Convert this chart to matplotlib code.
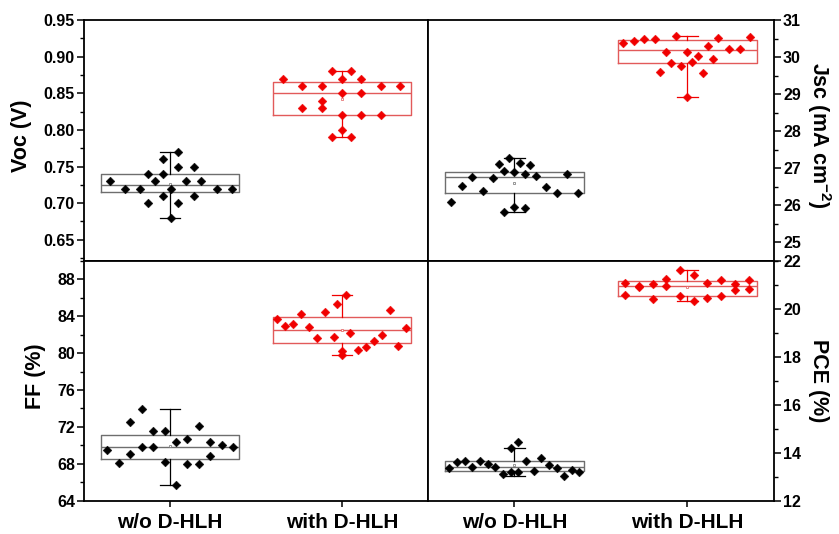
import numpy as np
import matplotlib
matplotlib.use("Agg")
import matplotlib.pyplot as plt
from matplotlib.ticker import MultipleLocator, FormatStrFormatter

plt.rcParams.update({
    "font.family": ["Liberation Sans", "DejaVu Sans"],
    "font.weight": "bold",
    "axes.labelweight": "bold",
    "mathtext.fontset": "custom",
    "mathtext.rm": "Liberation Sans:bold",
    "mathtext.default": "rm",
})

groups = ["w/o D-HLH", "with D-HLH"]

# ---- Voc (V) ----
voc_wo = [0.73, 0.72, 0.72, 0.70, 0.74, 0.73, 0.74, 0.76, 0.71, 0.72,
          0.68, 0.77, 0.75, 0.70, 0.73, 0.75, 0.71, 0.73, 0.72, 0.72]
voc_wo_dx = [-0.349, -0.262, -0.174, -0.130, -0.130, -0.085, -0.041, -0.041, -0.041, 0.004,
             0.004, 0.048, 0.048, 0.048, 0.093, 0.138, 0.138, 0.182, 0.271, 0.359]
voc_w = [0.87, 0.86, 0.83, 0.86, 0.84, 0.83, 0.88, 0.79, 0.87, 0.85,
         0.82, 0.80, 0.88, 0.79, 0.87, 0.85, 0.82, 0.86, 0.82, 0.86]
voc_w_dx = [-0.343, -0.231, -0.231, -0.116, -0.116, -0.116, -0.060, -0.060, 0.0, 0.0,
            0.0, 0.0, 0.054, 0.054, 0.110, 0.110, 0.110, 0.225, 0.225, 0.339]

# ---- Jsc (mA cm-2) ----
jsc_wo = [26.10, 26.51, 26.77, 26.38, 26.74, 27.12, 26.92, 25.81, 27.27, 26.89,
          25.97, 27.15, 26.86, 25.92, 27.09, 26.78, 26.50, 26.33, 26.84, 26.34]
jsc_wo_dx = [-0.369, -0.305, -0.244, -0.182, -0.122, -0.092, -0.061, -0.061, -0.030, 0.0,
             0.0, 0.030, 0.061, 0.061, 0.092, 0.122, 0.184, 0.246, 0.305, 0.365]
jsc_w = [30.38, 30.43, 30.50, 30.50, 29.59, 30.15, 29.83, 30.56, 29.76, 30.13,
         28.93, 29.86, 30.02, 29.57, 30.31, 29.95, 30.51, 30.23, 30.23, 30.55]
jsc_w_dx = [-0.370, -0.308, -0.249, -0.189, -0.156, -0.127, -0.094, -0.066, -0.035, -0.004,
            -0.004, 0.027, 0.058, 0.087, 0.118, 0.148, 0.179, 0.239, 0.301, 0.364]

# ---- FF (%) ----
ff_wo = [69.53, 68.09, 72.51, 69.06, 73.91, 69.81, 71.50, 69.78, 71.58, 68.19,
         70.35, 65.68, 70.71, 68.01, 72.12, 67.97, 70.35, 68.88, 69.99, 69.78]
ff_wo_dx = [-0.364, -0.297, -0.231, -0.231, -0.165, -0.165, -0.099, -0.099, -0.031, -0.031,
            0.035, 0.035, 0.101, 0.101, 0.167, 0.167, 0.234, 0.234, 0.300, 0.368]
ff_w = [83.70, 82.94, 83.12, 84.20, 82.87, 81.68, 84.45, 81.75, 85.28, 80.28,
        79.85, 86.32, 82.19, 80.39, 80.68, 81.36, 82.01, 84.71, 80.75, 82.76]
ff_w_dx = [-0.380, -0.331, -0.283, -0.238, -0.192, -0.143, -0.097, -0.048, -0.027, 0.0,
           0.0, 0.021, 0.045, 0.091, 0.138, 0.184, 0.233, 0.279, 0.328, 0.374]

# ---- PCE (%) ----
pce_wo = [13.35, 13.60, 13.66, 13.39, 13.66, 13.53, 13.38, 13.11, 14.20, 13.20,
          14.43, 13.20, 13.63, 13.25, 13.79, 13.47, 13.35, 13.02, 13.28, 13.20]
pce_wo_dx = [-0.377, -0.332, -0.288, -0.244, -0.199, -0.155, -0.111, -0.066, -0.022, -0.022,
             0.022, 0.022, 0.066, 0.111, 0.155, 0.199, 0.244, 0.288, 0.332, 0.375]
pce_w = [21.07, 20.57, 20.97, 20.93, 21.05, 20.41, 21.25, 20.94, 21.62, 20.54,
         21.43, 20.34, 21.08, 20.47, 21.22, 20.53, 21.05, 20.79, 21.22, 20.85]
pce_w_dx = [-0.360, -0.360, -0.281, -0.281, -0.202, -0.202, -0.123, -0.123, -0.044, -0.044,
            0.035, 0.035, 0.114, 0.114, 0.193, 0.193, 0.274, 0.274, 0.353, 0.353]

BLACK = "#000000"
RED = "#f00000"
BOX_K = "#6e6e6e"
BOX_R = "#e25a5a"


def box_stats(vals):
    v = np.sort(np.asarray(vals))
    q1, med, q3 = np.percentile(v, [25, 50, 75], method="midpoint")
    iqr = q3 - q1
    lo = v[v >= q1 - 1.5 * iqr].min()
    hi = v[v <= q3 + 1.5 * iqr].max()
    return dict(med=med, q1=q1, q3=q3, whislo=lo, whishi=hi, mean=v.mean(), fliers=[])


def panel(ax, sets, ylim, major, minor, fmt, right=False, bottom=False):
    for i, (vals, dx, col, bcol) in enumerate(sets):
        pos = i + 1
        ax.bxp([box_stats(vals)], positions=[pos], widths=0.8, capwidths=0.12,
               showfliers=False, showmeans=True,
               boxprops=dict(color=bcol, lw=1.0),
               medianprops=dict(color=bcol, lw=1.0),
               whiskerprops=dict(color=col, lw=0.9),
               capprops=dict(color=col, lw=0.9),
               meanprops=dict(marker="s", ms=1.8, mfc="white", mec=bcol, mew=0.5),
               zorder=2)
        ax.scatter(pos + np.asarray(dx), vals, marker="D", s=20, color=col,
                   edgecolors=col, linewidths=0.3, zorder=3)
    ax.set_xlim(0.5, 2.5)
    ax.set_ylim(*ylim)
    ax.yaxis.set_major_locator(MultipleLocator(major))
    ax.yaxis.set_minor_locator(MultipleLocator(minor))
    ax.yaxis.set_major_formatter(FormatStrFormatter(fmt))
    if right:
        ax.yaxis.tick_right()
        ax.yaxis.set_label_position("right")
    ax.tick_params(axis="y", which="major", direction="out", length=5, width=1.1,
                   labelsize=11.5, pad=1.5)
    ax.tick_params(axis="y", which="minor", direction="out", length=3, width=1.0)
    ax.set_xticks([1, 2])
    if bottom:
        ax.set_xticklabels(groups, fontsize=15, fontweight="bold")
        ax.tick_params(axis="x", direction="out", length=4, width=1.1, pad=5)
    else:
        ax.tick_params(axis="x", bottom=False, labelbottom=False)
    for sp in ax.spines.values():
        sp.set_linewidth(1.3)
    for lab in ax.get_yticklabels():
        lab.set_fontweight("bold")


fig = plt.figure(figsize=(8.39, 5.34), dpi=100)
L, M, R = 0.1001, 0.5101, 0.9225
B, Y, T = 0.0627, 0.5112, 0.9625

ax_voc = fig.add_axes([L, Y, M - L, T - Y])
ax_jsc = fig.add_axes([M, Y, R - M, T - Y])
ax_ff = fig.add_axes([L, B, M - L, Y - B])
ax_pce = fig.add_axes([M, B, R - M, Y - B])

panel(ax_voc, [(voc_wo, voc_wo_dx, BLACK, BOX_K), (voc_w, voc_w_dx, RED, BOX_R)],
      (0.621, 0.95), 0.05, 0.025, "%.2f")
panel(ax_jsc, [(jsc_wo, jsc_wo_dx, BLACK, BOX_K), (jsc_w, jsc_w_dx, RED, BOX_R)],
      (24.5, 31), 1, 0.5, "%d", right=True)
panel(ax_ff, [(ff_wo, ff_wo_dx, BLACK, BOX_K), (ff_w, ff_w_dx, RED, BOX_R)],
      (64, 90), 4, 2, "%d", bottom=True)
panel(ax_pce, [(pce_wo, pce_wo_dx, BLACK, BOX_K), (pce_w, pce_w_dx, RED, BOX_R)],
      (12, 22), 2, 1, "%d", right=True, bottom=True)

lab_kw = dict(fontsize=15.5, fontweight="bold", va="center", ha="center",
              rotation_mode="anchor")
ax_voc.set_ylabel("Voc (V)", rotation=90, **lab_kw)
ax_ff.set_ylabel("FF (%)", rotation=90, **lab_kw)
ax_jsc.set_ylabel(r"Jsc (mA cm$^{-2}$)", rotation=270, **lab_kw)
ax_pce.set_ylabel("PCE (%)", rotation=270, **lab_kw)
ax_voc.yaxis.set_label_coords(-0.183, 0.52)
ax_ff.yaxis.set_label_coords(-0.142, 0.52)
ax_jsc.yaxis.set_label_coords(1.130, 0.52)
ax_pce.yaxis.set_label_coords(1.130, 0.5)

fig.savefig("out.png", dpi=100, facecolor="white")
